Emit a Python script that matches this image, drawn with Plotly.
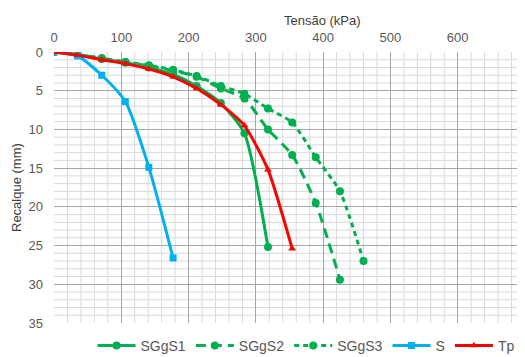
import plotly.graph_objects as go

# Data
load_s1 = [0, 35, 71, 106, 141, 177, 212, 248, 283, 318]
settle_s1 = [0, 0.4, 0.9, 1.4, 2.0, 2.9, 4.4, 6.6, 10.5, 25.2]

load_s2 = [0, 35, 71, 106, 141, 177, 212, 248, 283, 318, 354, 389, 425]
settle_s2 = [0, 0.35, 0.8, 1.3, 1.8, 2.4, 3.2, 4.7, 6.0, 10.0, 13.3, 19.5, 29.4]

load_s3 = [0, 35, 71, 106, 141, 177, 212, 248, 283, 318, 354, 389, 425, 460]
settle_s3 = [0, 0.35, 0.8, 1.3, 1.7, 2.3, 3.1, 4.4, 5.4, 7.3, 9.1, 13.6, 18.0, 27.0]

load_s = [0, 35, 71, 106, 141, 177]
settle_s = [0, 0.5, 3.0, 6.4, 14.9, 26.6]

load_tp = [0, 35, 71, 106, 141, 177, 212, 248, 283, 318, 354]
settle_tp = [0, 0.4, 1.0, 1.5, 2.2, 3.2, 4.7, 6.8, 9.5, 15.2, 25.4]

GREEN = "#00B050"
BLUE = "#00B0F0"
RED = "#FF0000"

# The page body has an 8px margin, so the figure is drawn 8px smaller
W, H = 517, 349
ML, MR, MT, MB = 46, 0, 44, 34

fig = go.Figure()

def add(x, y, name, color, dash, symbol, size):
    fig.add_trace(go.Scatter(
        x=x, y=y, name=name, mode="lines+markers",
        line=dict(color=color, width=3, dash=dash, shape="spline", smoothing=0.6),
        marker=dict(color=color, symbol=symbol, size=size),
    ))

add(load_s1, settle_s1, "SGgS1", GREEN, "solid", "circle", 8)
add(load_s2, settle_s2, "SGgS2", GREEN, "10px,6px", "circle", 8)
add(load_s3, settle_s3, "SGgS3", GREEN, "5px,4px", "circle", 8)
add(load_s, settle_s, "S", BLUE, "solid", "square", 7)
add(load_tp, settle_tp, "Tp", RED, "solid", "triangle-up", 7)

minor_x = [v for v in range(0, 701, 20) if v % 100 != 0]
minor_y = [v for v in range(0, 36) if v % 5 != 0]
shapes = []
for v in minor_x:
    shapes.append(dict(type="line", xref="x", yref="y", x0=v, x1=v, y0=0, y1=35,
                       line=dict(color="#D9D9D9", width=1), layer="below"))
for v in minor_y:
    shapes.append(dict(type="line", xref="x", yref="y", x0=0, x1=700, y0=v, y1=v,
                       line=dict(color="#D9D9D9", width=1), layer="below"))

pw = W - ML - MR
ph = H - MT - MB

def px_x(p):
    return (p - 8 - ML) / pw

def px_y(p):
    return (H - MB - (p - 8)) / ph

fig.update_layout(
    width=W, height=H,
    margin=dict(l=ML, r=MR, t=MT, b=MB, autoexpand=False),
    paper_bgcolor="white", plot_bgcolor="white",
    font=dict(family="Liberation Sans, Arial, sans-serif", size=13, color="#595959"),
    shapes=shapes,
    showlegend=True,
    legend=dict(orientation="h", x=px_x(306), xanchor="center", y=px_y(346), yanchor="middle",
                font=dict(size=14, color="#595959"), itemwidth=38,
                traceorder="normal"),
    xaxis=dict(
        side="top", range=[0, 700], dtick=100, tick0=0,
        showgrid=True, gridcolor="#A6A6A6", gridwidth=1,
        zeroline=False, showline=False, ticks="", automargin=False,
        ticklabelstandoff=6,
        tickfont=dict(size=13, color="#595959"),
    ),
    yaxis=dict(
        range=[35, 0], dtick=5, tick0=0,
        showgrid=True, gridcolor="#A6A6A6", gridwidth=1,
        zeroline=False, showline=False, ticks="", automargin=False,
        ticklabelstandoff=10,
        tickfont=dict(size=13, color="#595959"),
    ),
)

fig.add_annotation(text="Tensão (kPa)", xref="paper", yref="paper",
                   x=px_x(322), y=px_y(20),
                   showarrow=False, font=dict(size=13, color="#404040"),
                   yanchor="middle", xanchor="center")
fig.add_annotation(text="Recalque (mm)", xref="paper", yref="paper",
                   x=px_x(16), y=px_y(188),
                   showarrow=False, textangle=-90,
                   font=dict(size=13, color="#404040"),
                   yanchor="middle", xanchor="center")

fig.write_html("out.html")
